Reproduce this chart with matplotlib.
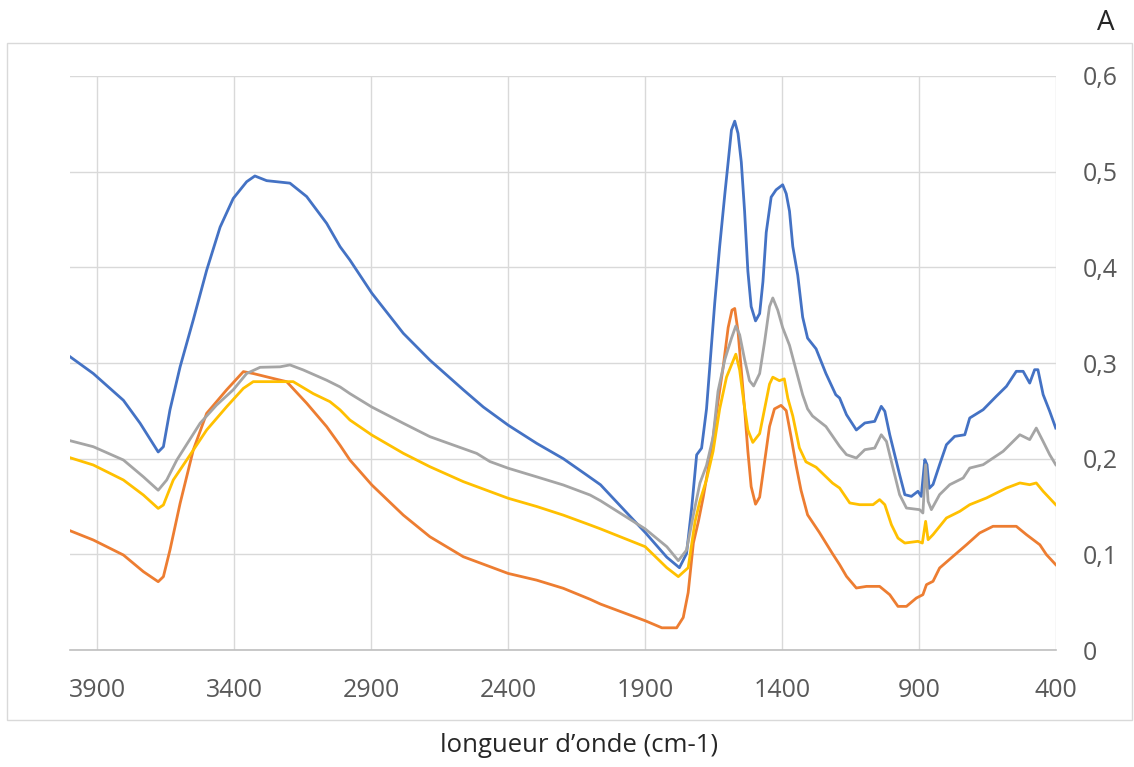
import numpy as np
import matplotlib
matplotlib.use("Agg")
import matplotlib.pyplot as plt
from matplotlib.patches import Rectangle
from matplotlib.ticker import FuncFormatter

plt.rcParams['font.family'] = ['Open Sans', 'DejaVu Sans']

# spectra: wavenumber (cm-1) -> absorbance
wn_blue = [4000, 3915, 3805, 3744, 3678, 3659, 3635, 3598, 3550, 3501, 3452, 3404, 3355, 3325,
           3282, 3197, 3136, 3063, 3014, 2978, 2898, 2783, 2686, 2564, 2491, 2400, 2296, 2199,
           2114, 2063, 1900, 1821, 1775, 1749, 1730, 1712, 1694, 1676, 1664, 1646, 1628, 1609,
           1597, 1585, 1573, 1561, 1549, 1537, 1525, 1513, 1497, 1482, 1470, 1458, 1440, 1422,
           1398, 1385, 1373, 1361, 1343, 1325, 1307, 1276, 1240, 1204, 1190, 1165, 1129, 1098,
           1062, 1038, 1025, 1007, 989, 971, 952, 928, 904, 892, 879, 871, 863, 849, 825, 800,
           770, 733, 715, 666, 618, 581, 545, 520, 496, 478, 466, 447, 423, 401]
ab_blue = [.3066, .289, .261, .237, .207, .2125, .251, .296, .345, .397, .442, .472, .4895, .4955,
           .4906, .488, .474, .446, .4216, .4076, .373, .331, .303, .272, .254, .235, .216, .200,
           .183, .1727, .1229, .097, .086, .1007, .149, .204, .211, .252, .2963, .3627, .4218, .477,
           .510, .5435, .5528, .540, .510, .4587, .396, .359, .344, .3517, .385, .4365, .4734, .481,
           .4863, .477, .4587, .4218, .392, .348, .326, .3148, .289, .2668, .2634, .246, .230, .2373,
           .239, .2547, .2495, .225, .2042, .1833, .1624, .1606, .1659, .1606, .199, .1937, .169, .173, .1937, .2146,
           .2233, .225, .2425, .2512, .2652, .2756, .2913, .2913, .279, .293, .293, .267, .2495, .232]

wn_orange = [4000, 3915, 3805, 3732, 3678, 3659, 3635, 3598, 3550, 3501, 3428, 3367, 3331, 3246,
             3209, 3136, 3063, 3014, 2978, 2898, 2783, 2686, 2564, 2400, 2296, 2199, 2101, 2063,
             1900, 1839, 1785, 1761, 1743, 1724, 1706, 1688, 1670, 1652, 1634, 1615, 1597, 1583,
             1573, 1561, 1549, 1537, 1525, 1513, 1497, 1482, 1464, 1446, 1428, 1404, 1385, 1367,
             1349, 1331, 1307, 1264, 1216, 1190, 1165, 1129, 1092, 1044, 1007, 977, 946, 910, 886,
             873, 849, 825, 776, 727, 679, 630, 545, 508, 459, 435, 401]
ab_orange = [.1247, .115, .0993, .0819, .0714, .0767, .1045, .1533, .209, .2474, .272, .291, .289, .283,
             .2805, .258, .2335, .214, .1986, .1725, .141, .1184, .0975, .080, .073, .0645, .053, .048,
             .0306, .0232, .0232, .034, .060, .1118, .134, .1598, .1893, .2225, .2594, .2963, .337, .3553,
             .357, .3332, .2926, .252, .2077, .1708, .1524, .1598, .1967, .2336, .252, .2557, .2502, .2225,
             .193, .167, .1413, .1229, .1007, .0892, .077, .0648, .0665, .0665, .0578, .0456, .0456, .0543, .0578,
             .0683, .0718, .0857, .0979, .110, .1223, .1293, .1293, .1206, .110, .0997, .0892]

wn_gray = [4000, 3915, 3805, 3732, 3678, 3647, 3610, 3525, 3465, 3404, 3355, 3306, 3233, 3197,
           3148, 3063, 3014, 2978, 2898, 2783, 2686, 2515, 2467, 2400, 2296, 2199, 2101, 2063,
           1900, 1821, 1779, 1749, 1724, 1700, 1676, 1652, 1634, 1609, 1585, 1569, 1555, 1537,
           1519, 1504, 1482, 1464, 1446, 1434, 1416, 1398, 1373, 1349, 1325, 1307, 1289, 1240,
           1190, 1165, 1129, 1098, 1062, 1038, 1019, 995, 971, 946, 898, 886, 876, 867, 855, 825,
           788, 739, 715, 666, 593, 532, 496, 472, 447, 423, 401]
ab_gray = [.2188, .2125, .1986, .181, .167, .1777, .1986, .237, .256, .272, .289, .2955, .296, .298,
           .2927, .282, .275, .268, .254, .237, .223, .2055, .197, .190, .181, .1725, .162, .156,
           .1266, .108, .0934, .1044, .1413, .1745, .193, .2225, .2705, .3037, .3258, .3387, .3295, .3037,
           .2815, .276, .289, .322, .359, .368, .3553, .337, .3185, .2926, .2668, .252, .2446, .2336,
           .2129, .2042, .2007, .2094, .2111, .225, .218, .190, .1624, .1484, .1467, .1432, .1937, .1554, .1467, .1624,
           .1728, .1798, .1902, .1937, .2077, .225, .2199, .232, .218, .2042, .1937]

wn_yellow = [4000, 3915, 3805, 3732, 3678, 3659, 3623, 3574, 3501, 3428, 3367, 3331, 3185, 3112,
             3051, 3014, 2978, 2898, 2783, 2686, 2564, 2400, 2296, 2199, 2101, 2063, 1900, 1821,
             1779, 1743, 1718, 1700, 1676, 1652, 1628, 1603, 1585, 1569, 1555, 1540, 1525, 1507,
             1482, 1464, 1446, 1434, 1410, 1392, 1379, 1361, 1337, 1313, 1276, 1216, 1190, 1153,
             1117, 1068, 1044, 1025, 1001, 977, 952, 904, 888, 876, 867, 849, 800, 751, 715, 654,
             581, 532, 496, 472, 447, 401]
ab_yellow = [.201, .1934, .1777, .162, .148, .1516, .1777, .1986, .230, .2543, .2735, .2805, .2805, .268,
             .2596, .251, .2404, .2247, .2056, .1916, .176, .1586, .150, .141, .1307, .1266, .108, .086,
             .0767, .086, .134, .156, .178, .2077, .252, .2852, .298, .3092, .2926, .2594, .230, .217,
             .2262, .252, .2779, .2852, .2815, .2834, .263, .2446, .2114, .1967, .1911, .1745, .1693, .1537,
             .1519, .1519, .1572, .1519, .131, .117, .1118, .1136, .1118, .1345, .1153, .1206, .138, .145, .1519, .1589,
             .1693, .1746, .1728, .1746, .1659, .1519]

x_ticks = [3900, 3400, 2900, 2400, 1900, 1400, 900, 400]
y_ticks = [0, 0.1, 0.2, 0.3, 0.4, 0.5, 0.6]

W, H = 1134, 767
fig = plt.figure(figsize=(W / 100, H / 100), dpi=100)
ax = fig.add_axes([70 / W, 1 - 650 / H, 986 / W, 574 / H])

ax.plot(wn_blue, ab_blue, color='#4472C4', lw=2)
ax.plot(wn_orange, ab_orange, color='#ED7D31', lw=2)
ax.plot(wn_gray, ab_gray, color='#A5A5A5', lw=2)
ax.plot(wn_yellow, ab_yellow, color='#FFC000', lw=2)

ax.set_xlim(4000, 400)
ax.set_ylim(0, 0.6)
ax.set_xticks(x_ticks)
ax.set_yticks(y_ticks)
ax.yaxis.tick_right()
ax.yaxis.set_major_formatter(FuncFormatter(lambda v, p: '0' if abs(v) < 1e-9 else ('%.1f' % v).replace('.', ',')))
ax.grid(True, color='#D9D9D9', lw=1)
ax.set_axisbelow(True)
for s in ['top', 'left', 'right']:
    ax.spines[s].set_visible(False)
ax.spines['bottom'].set_color('#BFBFBF')
ax.spines['bottom'].set_linewidth(1.2)
ax.tick_params(axis='both', length=0, labelsize=18, labelcolor='#595959')
ax.tick_params(axis='x', pad=20)
ax.tick_params(axis='y', pad=19)

# outer chart frame
fig.patches.append(Rectangle((7 / W, 1 - 720 / H), 1125 / W, 677 / H, transform=fig.transFigure,
                             fill=False, ec='#D9D9D9', lw=1))
fig.text(1106 / W, 1 - 23 / H, 'A', ha='center', va='center', fontsize=20, color='#262626')
fig.text(579 / W, 1 - 746 / H, 'longueur d\u2019onde (cm-1)', ha='center', va='center',
         fontsize=18.5, color='#262626')

fig.savefig('out.png', dpi=100)
